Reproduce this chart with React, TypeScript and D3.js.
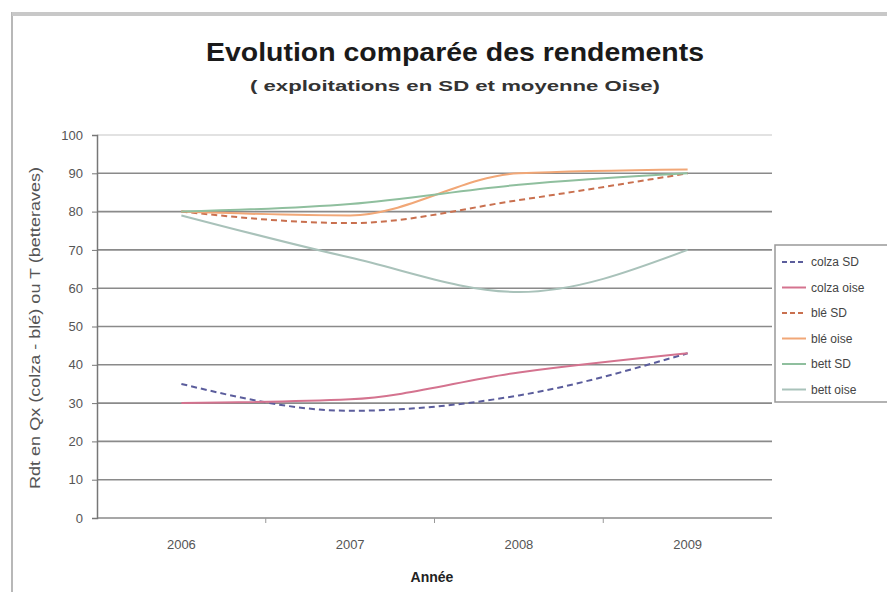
import React, { useRef, useEffect } from "react";
import * as d3 from "d3";

const years = ["2006", "2007", "2008", "2009"];
const yTicks = [0, 10, 20, 30, 40, 50, 60, 70, 80, 90, 100];

const colzaSD = [35, 28, 32, 43];
const colzaOise = [30, 31, 38, 43];
const bleSD = [80, 77, 83, 90];
const bleOise = [80, 79, 90, 91];
const bettSD = [80, 82, 87, 90];
const bettOise = [79, 68, 59, 70];

const seriesNames = ["colza SD", "colza oise", "blé SD", "blé oise", "bett SD", "bett oise"];
const seriesValues = [colzaSD, colzaOise, bleSD, bleOise, bettSD, bettOise];
const seriesColors = ["#5b5d9c", "#d4738f", "#c9704f", "#f1a777", "#8fbf9e", "#a9c2ba"];
const seriesDash = ["6,4", null, "6,4", null, null, null];

const W = 887;
const H = 592;
const margin = { top: 135, right: 115, bottom: 74, left: 97 };
const FONT = "Liberation Sans, Arial, sans-serif";

const App = () => {
    const svgRef = useRef<SVGSVGElement>(null);

    useEffect(() => {
        const svg = d3.select(svgRef.current);
        svg.selectAll("*").remove();

        const x = d3.scaleBand().domain(years).range([margin.left, W - margin.right]);
        const y = d3.scaleLinear().domain([0, 100]).range([H - margin.bottom, margin.top]);

        // background + chart frame
        svg.append("rect").attr("width", W).attr("height", H).attr("fill", "#fff");
        svg.append("rect")
            .attr("x", 12).attr("y", 13).attr("width", W).attr("height", H)
            .attr("fill", "none").attr("stroke", "#b8b8b8").attr("stroke-width", 2);
        svg.append("line")
            .attr("x1", 12).attr("x2", W).attr("y1", 14).attr("y2", 14)
            .attr("stroke", "#c8c8c8").attr("stroke-width", 4);

        // gridlines
        svg.append("g")
            .selectAll("line")
            .data(yTicks)
            .join("line")
            .attr("x1", margin.left)
            .attr("x2", W - margin.right)
            .attr("y1", d => y(d))
            .attr("y2", d => y(d))
            .attr("stroke", d => (d === 100 ? "#d8d8d8" : "#8a8a8a"))
            .attr("stroke-width", 1.6);

        // y axis
        const yAxis = svg.append("g")
            .attr("transform", `translate(${margin.left},0)`)
            .call(d3.axisLeft(y).tickValues(yTicks).tickSize(5).tickPadding(9));
        yAxis.select(".domain").attr("stroke", "#777").attr("stroke-width", 1.5);
        yAxis.selectAll(".tick line").attr("stroke", "#777");
        yAxis.selectAll("text")
            .attr("fill", "#555")
            .style("font-family", FONT)
            .style("font-size", "13px");

        // x axis
        const xAxis = svg.append("g")
            .attr("transform", `translate(0,${H - margin.bottom})`)
            .call(d3.axisBottom(x).tickSize(0).tickPadding(22));
        xAxis.select(".domain").remove();
        xAxis.selectAll("text")
            .attr("fill", "#555")
            .style("font-family", FONT)
            .style("font-size", "13px");
        svg.append("g")
            .selectAll("line")
            .data(years.slice(1))
            .join("line")
            .attr("x1", d => x(d)!)
            .attr("x2", d => x(d)!)
            .attr("y1", H - margin.bottom)
            .attr("y2", H - margin.bottom + 5)
            .attr("stroke", "#999");

        // series lines
        const line = d3.line<number>()
            .x((_, i) => x(years[i])! + x.bandwidth() / 2)
            .y(d => y(d))
            .curve(d3.curveMonotoneX);

        seriesValues.forEach((vals, i) => {
            svg.append("path")
                .datum(vals)
                .attr("fill", "none")
                .attr("stroke", seriesColors[i])
                .attr("stroke-width", 2)
                .attr("stroke-dasharray", seriesDash[i])
                .attr("d", line);
        });

        // titles
        svg.append("text")
            .attr("x", 455).attr("y", 61)
            .attr("text-anchor", "middle")
            .attr("textLength", 498)
            .attr("lengthAdjust", "spacingAndGlyphs")
            .style("font-family", FONT)
            .style("font-size", "25px")
            .style("font-weight", "bold")
            .attr("fill", "#1a1a1a")
            .text("Evolution comparée des rendements");
        svg.append("text")
            .attr("x", 455).attr("y", 91)
            .attr("text-anchor", "middle")
            .attr("textLength", 410)
            .attr("lengthAdjust", "spacingAndGlyphs")
            .style("font-family", FONT)
            .style("font-size", "15px")
            .style("font-weight", "bold")
            .attr("fill", "#333")
            .text("( exploitations en SD et moyenne Oise)");
        svg.append("text")
            .attr("x", 432).attr("y", 582)
            .attr("text-anchor", "middle")
            .style("font-family", FONT)
            .style("font-size", "14px")
            .style("font-weight", "bold")
            .attr("fill", "#222")
            .text("Année");
        svg.append("text")
            .attr("transform", `translate(40,328) rotate(-90)`)
            .attr("text-anchor", "middle")
            .attr("textLength", 322)
            .attr("lengthAdjust", "spacingAndGlyphs")
            .style("font-family", FONT)
            .style("font-size", "14px")
            .attr("fill", "#555")
            .text("Rdt en Qx (colza - blé) ou T (betteraves)");

        // legend
        const lg = svg.append("g").attr("transform", "translate(775,245)");
        lg.append("rect")
            .attr("width", 130).attr("height", 157)
            .attr("fill", "#fff").attr("stroke", "#999").attr("stroke-width", 1.5);
        seriesNames.forEach((name, i) => {
            const ly = 17 + i * 25.5;
            lg.append("line")
                .attr("x1", 7).attr("x2", 31)
                .attr("y1", ly).attr("y2", ly)
                .attr("stroke", seriesColors[i])
                .attr("stroke-width", 2)
                .attr("stroke-dasharray", seriesDash[i] ? "5,3" : null);
            lg.append("text")
                .attr("x", 36).attr("y", ly + 4)
                .style("font-family", FONT)
                .style("font-size", "12px")
                .attr("fill", "#444")
                .text(name);
        });
    }, []);

    return (
        <div style={{ position: "absolute", left: 0, top: 0 }}>
            <svg ref={svgRef} width={W} height={H}></svg>
        </div>
    );
};

export default App;
